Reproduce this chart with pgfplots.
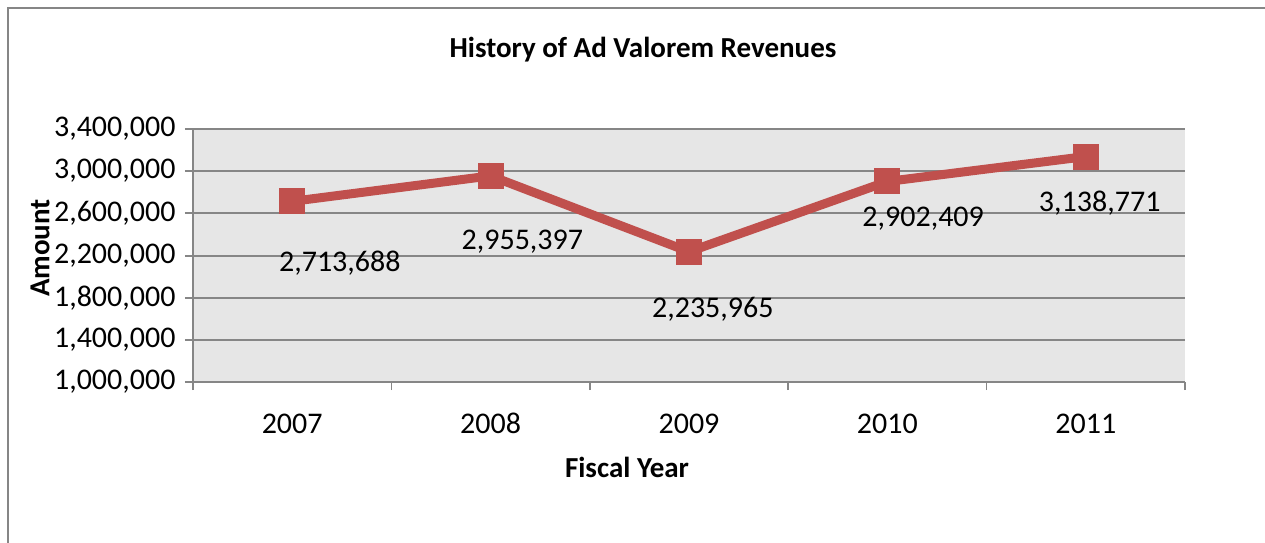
\documentclass[border=0pt]{standalone}
\usepackage{pgfplots}
\pgfplotsset{compat=1.18}
\usepackage{fontspec}
\setmainfont{Carlito}
\definecolor{linered}{HTML}{C0504D}
\definecolor{plotbg}{HTML}{E6E6E6}
\definecolor{gridgray}{HTML}{868686}
\begin{document}
\begin{tikzpicture}[x=1pt,y=1pt]
\useasboundingbox (-193,-160) rectangle (1072,382);
\draw[gridgray, line width=2pt] (-185,-165) -- (-185,374) -- (1080,374);
\begin{axis}[
  at={(0,0)}, anchor=south west,
  scale only axis, width=992pt, height=253pt,
  xmin=-0.5, xmax=4.5, ymin=1000000, ymax=3400000,
  scaled y ticks=false,
  axis background/.style={fill=plotbg},
  xtick={0,1,2,3,4}, xticklabels={2007,2008,2009,2010,2011},
  minor xtick={-0.5,0.5,1.5,2.5,3.5,4.5},
  major x tick style={draw=none},
  minor x tick style={gridgray, line width=1.5pt},
  ytick={1000000,1400000,1800000,2200000,2600000,3000000,3400000},
  yticklabels={1{,}000{,}000,1{,}400{,}000,1{,}800{,}000,2{,}200{,}000,2{,}600{,}000,3{,}000{,}000,3{,}400{,}000},
  ymajorgrids, major grid style={gridgray, line width=2pt},
  major y tick style={gridgray, line width=2pt},
  tick align=outside, major tick length=8pt, minor tick length=8pt,
  axis x line*=bottom, axis y line*=left,
  axis line style={gridgray, line width=2.5pt, -},
  tick label style={font=\fontsize{30}{35}\selectfont, text=black},
  yticklabel style={xshift=-6pt},
  xticklabel style={anchor=base, yshift=-43pt},
  clip=false,
]
\addplot[linered, line width=9pt, mark=square*, mark size=12.5pt, mark options={solid, fill=linered, draw=linered, line width=0pt}]
  coordinates {(0,2713688) (1,2955397) (2,2235965) (3,2902409) (4,3138771)};
\tikzset{dl/.style={font=\fontsize{30}{35}\selectfont, text=black}}
\node[dl] at (axis cs:0.24,2129000) {2,713,688};
\node[dl] at (axis cs:1.16,2328000) {2,955,397};
\node[dl] at (axis cs:2.12,1692500) {2,235,965};
\node[dl] at (axis cs:3.18,2546000) {2,902,409};
\node[dl] at (axis cs:4.07,2698000) {3,138,771};
\end{axis}
\node[font=\fontsize{29}{34}\selectfont\bfseries] at (450,332) {History of Ad Valorem Revenues};
\node[font=\fontsize{29}{34}\selectfont\bfseries] at (434,-85) {Fiscal Year};
\node[font=\fontsize{29}{34}\selectfont\bfseries, rotate=90] at (-153,134) {Amount};
\end{tikzpicture}
\end{document}
